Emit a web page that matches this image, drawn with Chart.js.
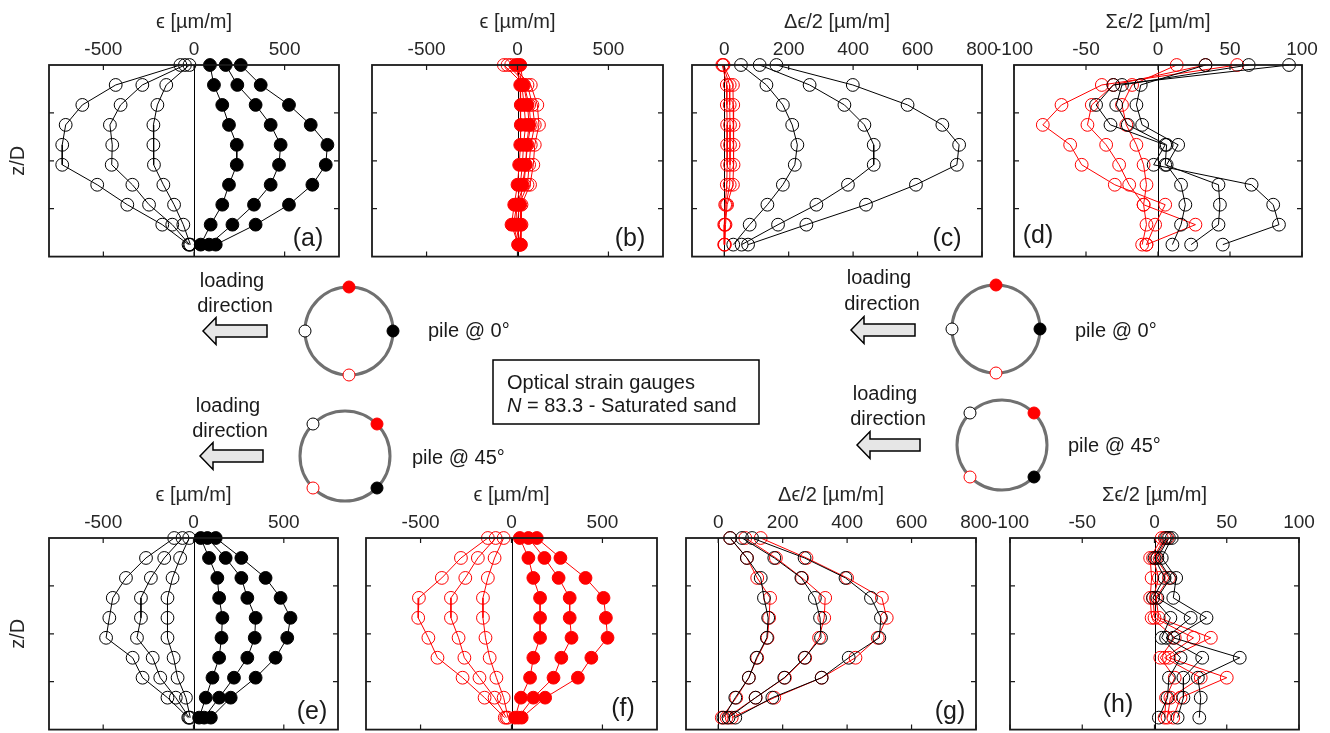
<!DOCTYPE html>
<html>
<head>
<meta charset="utf-8">
<script src="https://cdn.jsdelivr.net/npm/chart.js"></script>
<style>
  body { margin: 0; width: 1330px; height: 733px; overflow: hidden; background: #fff; position: relative; }
  canvas { position: absolute; }
  #sketch { position: absolute; left: 0; top: 0; z-index: 2; pointer-events: none; }
  #sketch text { font-family: "Liberation Sans", Arial, sans-serif; fill: #1a1a1a; }
</style>
</head>
<body>
<canvas id="pa"></canvas><canvas id="pb"></canvas><canvas id="pc"></canvas><canvas id="pd"></canvas>
<canvas id="pe"></canvas><canvas id="pf"></canvas><canvas id="pg"></canvas><canvas id="ph"></canvas>

<svg id="sketch" width="1330" height="733" xmlns="http://www.w3.org/2000/svg">
  <!-- panel letters -->
  <g font-size="25" text-anchor="middle" dominant-baseline="central">
    <text x="308" y="237">(a)</text><text x="630" y="237">(b)</text>
    <text x="947" y="237">(c)</text><text x="1038" y="234">(d)</text>
    <text x="312" y="710">(e)</text><text x="623" y="707">(f)</text>
    <text x="950" y="710">(g)</text><text x="1118" y="703">(h)</text>
  </g>

  <!-- pile sketches -->
  <g font-size="20" text-anchor="middle" dominant-baseline="central">
    <text x="232" y="280">loading</text><text x="235" y="305">direction</text>
    <text x="228" y="405">loading</text><text x="230" y="430">direction</text>
    <text x="879" y="277">loading</text><text x="882" y="303">direction</text>
    <text x="885" y="393">loading</text><text x="888" y="418">direction</text>
  </g>
  <g font-size="20" dominant-baseline="central">
    <text x="428" y="330">pile @ 0°</text>
    <text x="412" y="457">pile @ 45°</text>
    <text x="1075" y="330">pile @ 0°</text>
    <text x="1068" y="445">pile @ 45°</text>
  </g>

  <g fill="#e6e6e6" stroke="#000" stroke-width="1.5">
    <polygon points="203,331 216,317.5 216,325 267,325 267,337 216,337 216,344.5"/>
    <polygon points="200,456 213,442.5 213,450 263,450 263,462 213,462 213,469.5"/>
    <polygon points="851,330 864,316.5 864,324 915,324 915,336 864,336 864,343.5"/>
    <polygon points="857,445 870,431.5 870,439 920,439 920,451 870,451 870,458.5"/>
  </g>

  <g fill="none" stroke="#707070" stroke-width="3">
    <circle cx="349" cy="331" r="44"/>
    <circle cx="345" cy="456" r="45"/>
    <circle cx="996" cy="329" r="44"/>
    <circle cx="1002" cy="445" r="45"/>
  </g>
  <g stroke-width="1">
    <circle cx="349" cy="287" r="6" fill="#ff0000" stroke="#ff0000"/>
    <circle cx="305" cy="331" r="6" fill="#fff" stroke="#000"/>
    <circle cx="393" cy="331" r="6" fill="#000" stroke="#000"/>
    <circle cx="349" cy="375" r="6" fill="#fff" stroke="#ff0000"/>

    <circle cx="313" cy="424" r="6" fill="#fff" stroke="#000"/>
    <circle cx="377" cy="424" r="6" fill="#ff0000" stroke="#ff0000"/>
    <circle cx="313" cy="488" r="6" fill="#fff" stroke="#ff0000"/>
    <circle cx="377" cy="488" r="6" fill="#000" stroke="#000"/>

    <circle cx="996" cy="285" r="6" fill="#ff0000" stroke="#ff0000"/>
    <circle cx="952" cy="329" r="6" fill="#fff" stroke="#000"/>
    <circle cx="1040" cy="329" r="6" fill="#000" stroke="#000"/>
    <circle cx="996" cy="373" r="6" fill="#fff" stroke="#ff0000"/>

    <circle cx="970" cy="413" r="6" fill="#fff" stroke="#000"/>
    <circle cx="1034" cy="413" r="6" fill="#ff0000" stroke="#ff0000"/>
    <circle cx="970" cy="477" r="6" fill="#fff" stroke="#ff0000"/>
    <circle cx="1034" cy="477" r="6" fill="#000" stroke="#000"/>
  </g>

  <rect x="493" y="360" width="266" height="64" fill="none" stroke="#000" stroke-width="1.5"/>
  <g font-size="20" dominant-baseline="central">
    <text x="507" y="382">Optical strain gauges</text>
    <text x="507" y="405"><tspan font-style="italic">N</tspan> = 83.3 - Saturated sand</text>
  </g>
</svg>

<script>
// depth levels (z/D, top to toe) and ticks
const depth = [0, 1, 2, 3, 4, 5, 6, 7, 8, 9];
const zMax = 9.6;
const zTicks = [2.4, 4.8, 7.2];
const epsTicks = [-500, 0, 500];
const halfTicks = [0, 200, 400, 600, 800];
const sumTicks = [-100, -50, 0, 50, 100];

// (a) pile @ 0°, black gauges, eps
const aOpen = [
  [-25, -153, -202, -224, -224, -221, -169, -110, -59, -20],
  [-50, -285, -405, -464, -451, -454, -340, -248, -120, -25],
  [-75, -432, -616, -708, -727, -727, -534, -368, -175, -30]
];
const aFilled = [
  [88, 110, 156, 193, 236, 236, 193, 156, 92, 37],
  [175, 239, 340, 423, 478, 469, 423, 331, 212, 83],
  [258, 368, 524, 644, 736, 727, 653, 524, 340, 120]
];
// (b) pile @ 0°, red gauges, eps
const bOpen = [
  [-75, 36, 64, 73, 55, 45, 36, -4, -22, 4],
  [-55, 55, 82, 95, 73, 64, 55, 9, 0, 13],
  [-35, 73, 109, 118, 95, 87, 69, 22, 22, 18]
];
const bFilled = [
  [-10, 15, 18, 18, 15, 9, 0, -18, -33, 4],
  [5, 24, 36, 45, 33, 27, 15, -4, -9, 11],
  [15, 33, 55, 64, 51, 45, 27, 15, 18, 18]
];
// (c) pile @ 0°, delta eps / 2
const cBlack = [
  [52, 131, 182, 211, 227, 219, 182, 134, 79, 28],
  [110, 265, 373, 435, 464, 464, 384, 286, 167, 54],
  [162, 399, 569, 677, 729, 722, 595, 440, 255, 74]
];
const cRed = [
  [-6, 8, 8, 9, 9, 9, 8, 3, 0, 0],
  [-4, 17, 17, 18, 18, 18, 17, 6, 2, 1],
  [-2, 27, 28, 29, 29, 29, 27, 9, 4, 2]
];
// (d) pile @ 0°, sum eps / 2
const dBlack = [
  [91, -31, -43, -33, 5, -3, 65, 80, 84, 45],
  [63, -25, -29, -21, 6, 5, 42, 43, 42, 23],
  [33, -12, -15, -11, 14, 6, 16, 19, 16, 10]
];
const dRed = [
  [55, -39, -67, -80, -61, -53, -30, 5, -2, -8],
  [33, -31, -46, -49, -36, -27, -20, -10, 26, -8],
  [13, -18, -25, -22, -15, -10, -8, -10, -8, -11]
];
// (e) pile @ 45°, black gauges, eps
const eOpen = [
  [-24, -74, -116, -144, -144, -144, -110, -88, -42, -18],
  [-61, -162, -236, -291, -291, -313, -226, -184, -98, -24],
  [-107, -263, -374, -447, -466, -484, -337, -282, -144, -29]
];
const eFilled = [
  [40, 86, 132, 142, 160, 155, 142, 105, 68, 31],
  [77, 178, 265, 298, 344, 339, 298, 224, 142, 59],
  [123, 265, 399, 482, 537, 519, 454, 344, 206, 96]
];
// (f) pile @ 45°, red gauges, eps
const fOpen = [
  [-43, -93, -130, -157, -157, -143, -120, -83, -43, -19],
  [-87, -185, -254, -333, -333, -291, -259, -176, -93, -28],
  [-130, -278, -383, -509, -513, -457, -407, -269, -148, -37]
];
const fFilled = [
  [46, 93, 120, 157, 157, 157, 120, 102, 52, 19],
  [93, 181, 259, 320, 320, 330, 274, 231, 120, 37],
  [139, 269, 407, 506, 519, 528, 439, 365, 185, 56]
];
// (g) pile @ 45°, delta eps / 2
const gBlack = [
  [37, 89, 132, 142, 155, 151, 119, 95, 53, 16],
  [74, 174, 258, 300, 316, 319, 268, 205, 116, 32],
  [105, 268, 395, 474, 505, 500, 405, 321, 168, 53]
];
const gRed = [
  [37, 89, 121, 161, 158, 153, 121, 95, 56, 11],
  [84, 179, 260, 332, 329, 313, 270, 207, 116, 26],
  [132, 274, 400, 508, 523, 495, 426, 321, 174, 42]
];
// (h) pile @ 45°, sum eps / 2
const hBlack = [
  [8, 0, 7, -1, 11, 5, 18, 10, 9, 3],
  [10, 2, 11, 2, 25, 8, 33, 20, 20, 16],
  [12, 5, 15, 13, 36, 13, 59, 30, 32, 31]
];
const hRed = [
  [5, -3, -2, -3, -2, 14, 4, 14, 8, 7],
  [7, -1, 3, -1, 0, 27, 7, 32, 11, 9],
  [9, 1, 10, 1, 3, 39, 10, 50, 18, 13]
];

const FONT = '"Liberation Sans", Arial, sans-serif';
const BLACK = '#000000', RED = '#ff0000';

function series(vals, color, filled) {
  return {
    data: vals.map((v, i) => ({ x: v, y: depth[i] })),
    showLine: true,
    borderColor: color,
    borderWidth: 1,
    pointRadius: 6.4,
    pointHoverRadius: 6.4,
    pointBorderWidth: 1,
    pointBorderColor: color,
    pointBackgroundColor: filled ? color : 'rgba(0,0,0,0)',
    clip: false
  };
}

// box + inward ticks + zero line, like the original plots
const framePlugin = {
  id: 'frame',
  beforeDatasetsDraw(chart) {
    const { ctx, chartArea: a, scales: { x } } = chart;
    const x0 = Math.round(x.getPixelForValue(0)) + 0.5;
    ctx.save();
    ctx.strokeStyle = '#000';
    ctx.lineWidth = 1;
    ctx.beginPath();
    ctx.moveTo(x0, a.top);
    ctx.lineTo(x0, a.bottom);
    ctx.stroke();
    ctx.restore();
  },
  afterDraw(chart) {
    const { ctx, chartArea: a, scales: { x, y } } = chart;
    ctx.save();
    ctx.strokeStyle = '#1a1a1a';
    ctx.lineWidth = 1.8;
    ctx.strokeRect(a.left, a.top, a.right - a.left, a.bottom - a.top);
    ctx.lineWidth = 1.2;
    ctx.beginPath();
    x.ticks.forEach(t => {
      const p = x.getPixelForValue(t.value);
      ctx.moveTo(p, a.top); ctx.lineTo(p, a.top + 5);
      ctx.moveTo(p, a.bottom); ctx.lineTo(p, a.bottom - 5);
    });
    y.ticks.forEach(t => {
      const p = y.getPixelForValue(t.value);
      ctx.moveTo(a.left, p); ctx.lineTo(a.left + 5, p);
      ctx.moveTo(a.right, p); ctx.lineTo(a.right - 5, p);
    });
    ctx.stroke();
    ctx.restore();
  }
};

function panel(id, area, xMin, xMax, xTicks, xTitle, sets, yTitle) {
  const L = yTitle ? area.left : 30, R = 25, T = 64, B = 4;
  const cv = document.getElementById(id);
  cv.width = L + area.width + R;
  cv.height = T + area.height + B;
  cv.style.left = (area.left - L) + 'px';
  cv.style.top = (area.top - T) + 'px';

  new Chart(cv, {
    type: 'scatter',
    data: { datasets: sets },
    options: {
      responsive: false,
      animation: false,
      events: [],
      layout: { padding: { left: 0, right: R, top: 0, bottom: B } },
      plugins: { legend: { display: false }, tooltip: { enabled: false } },
      scales: {
        x: {
          type: 'linear', position: 'top', min: xMin, max: xMax,
          afterBuildTicks: s => { s.ticks = xTicks.map(v => ({ value: v })); },
          afterFit: s => { s.height = T; s.paddingLeft = 0; s.paddingRight = 0; },
          grid: { display: false, drawTicks: false },
          border: { display: false },
          ticks: { padding: 4, color: '#262626', autoSkip: false, maxRotation: 0,
                   font: { family: FONT, size: 19 } },
          title: { display: true, text: xTitle, color: '#262626',
                   font: { family: FONT, size: 20 }, padding: { top: 9, bottom: 0 } }
        },
        y: {
          type: 'linear', reverse: true, min: 0, max: zMax,
          afterBuildTicks: s => { s.ticks = zTicks.map(v => ({ value: v })); },
          afterFit: s => { s.width = L; s.paddingTop = 0; s.paddingBottom = 0; },
          grid: { display: false, drawTicks: false },
          border: { display: false },
          ticks: { display: false },
          title: { display: !!yTitle, text: yTitle || '', color: '#262626',
                   font: { family: FONT, size: 20 }, padding: { top: 6, bottom: 0 } }
        }
      }
    },
    plugins: [framePlugin]
  });
}

const EPS = 'ϵ [µm/m]', DEPS = 'Δϵ/2 [µm/m]', SEPS = 'Σϵ/2 [µm/m]';

panel('pa', { left: 49, top: 65, width: 290, height: 195 }, -800, 800, epsTicks, EPS,
  [...aOpen.map(s => series(s, BLACK, false)), ...aFilled.map(s => series(s, BLACK, true))], 'z/D');
panel('pb', { left: 372, top: 65, width: 291, height: 195 }, -800, 800, epsTicks, EPS,
  [...bOpen.map(s => series(s, RED, false)), ...bFilled.map(s => series(s, RED, true))]);
panel('pc', { left: 692, top: 65, width: 290, height: 195 }, -100, 800, halfTicks, DEPS,
  [...cBlack.map(s => series(s, BLACK, false)), ...cRed.map(s => series(s, RED, false))]);
panel('pd', { left: 1014, top: 65, width: 288, height: 195 }, -100, 100, sumTicks, SEPS,
  [...dBlack.map(s => series(s, BLACK, false)), ...dRed.map(s => series(s, RED, false))]);

panel('pe', { left: 49, top: 538, width: 289, height: 195 }, -800, 800, epsTicks, EPS,
  [...eOpen.map(s => series(s, BLACK, false)), ...eFilled.map(s => series(s, BLACK, true))], 'z/D');
panel('pf', { left: 366, top: 538, width: 291, height: 195 }, -800, 800, epsTicks, EPS,
  [...fOpen.map(s => series(s, RED, false)), ...fFilled.map(s => series(s, RED, true))]);
panel('pg', { left: 686, top: 538, width: 290, height: 195 }, -100, 800, halfTicks, DEPS,
  [...gBlack.map(s => series(s, BLACK, false)), ...gRed.map(s => series(s, RED, false))]);
panel('ph', { left: 1010, top: 538, width: 289, height: 195 }, -100, 100, sumTicks, SEPS,
  [...hBlack.map(s => series(s, BLACK, false)), ...hRed.map(s => series(s, RED, false))]);
</script>
</body>
</html>
